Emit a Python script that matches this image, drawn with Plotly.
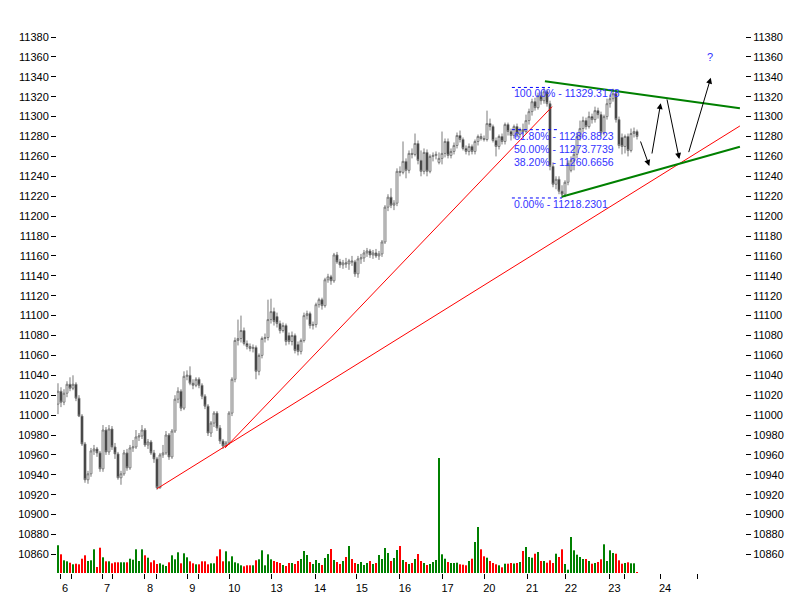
import plotly.graph_objects as go

# hourly bars, 6th .. 23rd (one bar every 3 px in the original)
opens = [
    11011, 11024, 11013, 11022, 11031, 11027, 11031, 11017, 10999, 10971, 10935, 10941, 10964, 10966,
    10962, 10946, 10985, 10963, 10986, 10968, 10961, 10937, 10941, 10962, 10947, 10967, 10968, 10978,
    10979, 10985, 10970, 10973, 10962, 10956, 10927, 10960, 10962, 10980, 10958, 10984, 11016, 11024,
    11007, 11039, 11040, 11032, 11030, 11036, 11030, 11019, 11009, 10982, 10992, 11002, 10987, 10974,
    10969, 10972, 11002, 11036, 11075, 11077, 11085, 11072, 11069, 11067, 11068, 11044, 11060, 11077,
    11078, 11096, 11104, 11099, 11092, 11085, 11090, 11080, 11074, 11080, 11071, 11064, 11075, 11100,
    11102, 11090, 11091, 11111, 11116, 11110, 11136, 11139, 11135, 11161, 11154, 11151, 11153, 11152,
    11155, 11154, 11142, 11157, 11158, 11163, 11165, 11161, 11163, 11160, 11162, 11174, 11209, 11219,
    11211, 11213, 11245, 11244, 11255, 11246, 11263, 11262, 11273, 11256, 11245, 11264, 11245, 11260,
    11261, 11254, 11258, 11263, 11275, 11261, 11265, 11271, 11281, 11277, 11268, 11265, 11270, 11265,
    11275, 11280, 11278, 11277, 11293, 11290, 11276, 11270, 11280, 11275, 11292, 11285, 11281, 11290,
    11282, 11287, 11285, 11296, 11305, 11315, 11309, 11321, 11316, 11325, 11313, 11250, 11232, 11237,
    11225, 11222, 11234, 11246, 11256, 11262, 11280, 11288, 11296, 11290, 11300, 11297, 11306, 11302,
    11284, 11300, 11313, 11318, 11323, 11297, 11279, 11270, 11280, 11266, 11283, 11285,
]
highs = [
    11032, 11028, 11026, 11034, 11038, 11040, 11033, 11020, 11001, 10973, 10944, 10967, 10970, 10968,
    10964, 10990, 10988, 10990, 10989, 10972, 10963, 10944, 10965, 10966, 10970, 10975, 10985, 10982,
    10990, 10987, 10976, 10975, 10965, 10958, 10962, 10970, 10984, 10982, 10986, 11020, 11028, 11026,
    11044, 11045, 11049, 11036, 11038, 11038, 11032, 11021, 11011, 10994, 11004, 11004, 10990, 10976,
    10974, 11004, 11038, 11078, 11096, 11100, 11088, 11075, 11072, 11071, 11070, 11062, 11079, 11082,
    11116, 11117, 11108, 11103, 11095, 11093, 11092, 11083, 11084, 11082, 11074, 11077, 11103, 11105,
    11104, 11094, 11113, 11118, 11118, 11138, 11142, 11141, 11163, 11164, 11157, 11156, 11158, 11157,
    11160, 11156, 11160, 11162, 11166, 11168, 11167, 11166, 11167, 11165, 11176, 11211, 11222, 11228,
    11216, 11248, 11250, 11275, 11258, 11266, 11268, 11283, 11276, 11266, 11268, 11267, 11262, 11264,
    11265, 11264, 11285, 11278, 11278, 11268, 11274, 11284, 11286, 11279, 11271, 11273, 11272, 11277,
    11282, 11283, 11281, 11306, 11298, 11292, 11279, 11282, 11283, 11294, 11294, 11288, 11292, 11293,
    11289, 11293, 11302, 11308, 11318, 11319, 11324, 11325, 11329.32, 11327, 11316, 11254, 11240, 11240,
    11231, 11236, 11256, 11260, 11270, 11284, 11296, 11300, 11299, 11305, 11303, 11310, 11309, 11305,
    11302, 11318, 11322, 11328, 11326, 11300, 11283, 11282, 11283, 11288, 11289, 11287,
]
lows = [
    11001, 11008, 11010, 11018, 11024, 11025, 11014, 10998, 10969, 10932, 10931, 10938, 10960, 10958,
    10943, 10943, 10960, 10960, 10965, 10956, 10935, 10930, 10939, 10944, 10945, 10963, 10966, 10974,
    10976, 10968, 10966, 10960, 10952, 10925, 10926, 10957, 10960, 10955, 10956, 10982, 11012, 11004,
    11005, 11035, 11030, 11026, 11028, 11027, 11016, 11006, 10979, 10978, 10988, 10984, 10971, 10966,
    10968, 10970, 10999, 11033, 11070, 11073, 11070, 11066, 11064, 11063, 11036, 11040, 11057, 11073,
    11075, 11092, 11090, 11088, 11082, 11083, 11070, 11071, 11070, 11062, 11060, 11061, 11073, 11096,
    11087, 11086, 11088, 11108, 11106, 11108, 11133, 11131, 11133, 11152, 11148, 11147, 11148, 11146,
    11150, 11139, 11138, 11152, 11154, 11159, 11158, 11157, 11158, 11156, 11159, 11172, 11205, 11208,
    11206, 11210, 11240, 11242, 11238, 11243, 11258, 11260, 11252, 11240, 11242, 11240, 11243, 11255,
    11257, 11252, 11252, 11259, 11258, 11258, 11262, 11268, 11274, 11266, 11262, 11261, 11262, 11262,
    11271, 11276, 11275, 11275, 11286, 11274, 11260, 11267, 11272, 11272, 11281, 11276, 11278, 11279,
    11279, 11282, 11283, 11292, 11301, 11306, 11307, 11312, 11313, 11310, 11246, 11229, 11227, 11222,
    11218.23, 11219, 11231, 11244, 11246, 11258, 11276, 11284, 11287, 11288, 11293, 11294, 11298, 11280,
    11281, 11297, 11309, 11315, 11294, 11268, 11262, 11263, 11260, 11264, 11279, 11277,
]
closes = [
    11024, 11013, 11022, 11031, 11027, 11031, 11017, 10999, 10971, 10935, 10941, 10964, 10966, 10962,
    10946, 10985, 10963, 10986, 10968, 10961, 10937, 10941, 10962, 10947, 10967, 10968, 10978, 10979,
    10985, 10970, 10973, 10962, 10956, 10927, 10960, 10962, 10980, 10958, 10984, 11016, 11024, 11007,
    11039, 11040, 11032, 11030, 11036, 11030, 11019, 11009, 10982, 10992, 11002, 10987, 10974, 10969,
    10972, 11002, 11036, 11075, 11077, 11085, 11072, 11069, 11067, 11068, 11044, 11060, 11077, 11078,
    11096, 11104, 11094, 11092, 11085, 11090, 11074, 11074, 11080, 11065, 11064, 11075, 11100, 11102,
    11090, 11091, 11111, 11116, 11110, 11136, 11139, 11135, 11161, 11154, 11151, 11153, 11152, 11155,
    11154, 11142, 11157, 11158, 11163, 11165, 11161, 11163, 11160, 11162, 11174, 11209, 11219, 11211,
    11213, 11245, 11244, 11255, 11246, 11263, 11262, 11273, 11256, 11245, 11264, 11245, 11260, 11261,
    11262, 11258, 11263, 11275, 11261, 11265, 11271, 11281, 11277, 11268, 11265, 11270, 11265, 11275,
    11280, 11278, 11277, 11293, 11290, 11276, 11270, 11280, 11275, 11292, 11285, 11281, 11290, 11282,
    11287, 11285, 11296, 11305, 11315, 11309, 11321, 11316, 11325, 11313, 11250, 11232, 11237, 11225,
    11222, 11234, 11253, 11256, 11262, 11280, 11288, 11296, 11290, 11300, 11297, 11306, 11302, 11284,
    11300, 11313, 11318, 11323, 11297, 11271, 11270, 11280, 11266, 11283, 11285, 11280,
]
volumes = [
    2770, 1870, 1270, 1170, 1030, 870, 930, 870, 1430, 1770, 1200, 1270, 2370, 600,
    2530, 1570, 1170, 1170, 970, 1070, 1070, 1070, 1070, 1070, 1430, 1330, 2370, 1200,
    2370, 1770, 1530, 1070, 1270, 900, 970, 830, 700, 1070, 1770, 1370, 2070, 970,
    1970, 1570, 1170, 970, 870, 870, 1170, 1170, 870, 970, 970, 1670, 2370, 1170,
    2170, 1170, 1670, 1070, 970, 770, 670, 770, 770, 770, 1270, 1370, 2270, 770,
    1870, 1370, 1200, 1100, 1000, 800, 700, 1000, 1000, 900, 1200, 1400, 2200, 1800,
    1100, 900, 1300, 1000, 800, 1500, 1900, 2400, 1300, 1100, 900, 1200, 1600, 2700,
    1400, 1000, 900, 1100, 800, 1000, 1200, 900, 1000, 1800, 1400, 2500, 2000, 1200,
    1500, 2300, 2700, 1300, 1100, 900, 1000, 1400, 1900, 1200, 1000, 800, 900, 1100,
    1300, 11500, 1870, 1430, 1100, 1000, 1000, 1030, 870, 830, 770, 1200, 1430, 3100,
    4600, 2370, 1670, 1530, 1200, 1000, 870, 770, 570, 930, 930, 1000, 950, 1000,
    1100, 2200, 2600, 1600, 1530, 1930, 2100, 1200, 1200, 1030, 1270, 1000, 1930, 1600,
    2370, 900, 330, 3600, 2270, 1830, 1600, 1400, 1400, 1200, 930, 1000, 1100, 1370,
    2870, 1200, 2270, 2000, 1930, 1270, 930, 1000, 1070, 970, 970, 70,
]

bars = list(range(len(closes)))

day_ticks = [0.67, 14.7, 29, 43.1, 57.1, 71.2, 85.7, 99.6, 114, 128.2, 142.1, 156.4, 169.3, 183.8, 200.7]
day_labels = ['6', '7', '8', '9', '10', '13', '14', '15', '16', '17', '20', '21', '22', '23', '24']
session_ticks = [4.6, 18.3, 32.7, 46.7, 188.8, 213.1]
price_ticks = list(range(10860, 11381, 20))

fib_pct = ['100.00%', '61.80%', '50.00%', '38.20%', '0.00%']
fib_level = [11329.3178, 11286.8823, 11273.7739, 11260.6656, 11218.2301]
fib_line_end = [164, 166.3, None, None, 168]
fib_start = 151.3

# trend lines: [bar0, bar1], [price0, price1]
long_support = ([33, 227.3], [10926, 11290.6])
steep_support = ([55.7, 164.7], [10967, 11310])
triangle_top = ([162.3, 227.3], [11335.5, 11308.3])
triangle_bottom = ([167.9, 227.3], [11219.5, 11269.7])

# projected zigzag legs: from (bar, price) to (bar, price)
zigzag = [
    (194, 11276.5, 197.1, 11250.4),
    (197.9, 11261.4, 200.9, 11313.5),
    (202.9, 11318.8, 207.1, 11257.4),
    (210.1, 11262.8, 217.6, 11339.1),
]

vol_colors = ['#008000' if c >= o else '#ff0000' for o, c in zip(opens, closes)]

fig = go.Figure()

fig.add_trace(go.Bar(x=bars, y=volumes, marker=dict(color=vol_colors, line=dict(width=0)),
                     width=0.67, yaxis='y3', hoverinfo='skip'))

fig.add_trace(go.Candlestick(
    x=bars, open=opens, high=highs, low=lows, close=closes,
    increasing=dict(line=dict(color='#7a7a7a', width=1), fillcolor='white'),
    decreasing=dict(line=dict(color='#7a7a7a', width=1), fillcolor='black'),
    whiskerwidth=0))

for xs, ys in [long_support, steep_support]:
    fig.add_trace(go.Scatter(x=xs, y=ys, mode='lines', line=dict(color='red', width=1), yaxis='y2'))
for xs, ys in [triangle_top, triangle_bottom]:
    fig.add_trace(go.Scatter(x=xs, y=ys, mode='lines', line=dict(color='#008000', width=2), yaxis='y2'))

for lvl, end in zip(fib_level, fib_line_end):
    if end is None:
        continue
    fig.add_trace(go.Scatter(x=[fib_start, end], y=[lvl, lvl], mode='lines',
                             line=dict(color='#0000ff', width=1, dash='dot'), yaxis='y2'))

annotations = []
for pct, lvl in zip(fib_pct, fib_level):
    annotations.append(dict(x=fib_start, y=lvl, xref='x', yref='y', text=f'{pct} - {lvl:.4f}',
                            showarrow=False, xanchor='left', yanchor='middle', yshift=-6,
                            font=dict(color='#3333ff', size=10.5)))
for x0, y0, x1, y1 in zigzag:
    annotations.append(dict(x=x1, y=y1, ax=x0, ay=y0, xref='x', yref='y', axref='x', ayref='y',
                            text='', showarrow=True, arrowhead=2, arrowsize=1.2, arrowwidth=1,
                            arrowcolor='black', standoff=0))
annotations.append(dict(x=217.3, y=11360, xref='x', yref='y', text='?', showarrow=False,
                        font=dict(color='#3333ff', size=11)))

y_range = [10841.3, 11397.1]
axis_font = dict(family='Liberation Sans', size=11, color='black')

# the page body adds 8px on the left and top, so the margins are trimmed by that much
fig.update_layout(
    width=800, height=600,
    margin=dict(l=49, r=63, t=12, b=35),
    paper_bgcolor='white', plot_bgcolor='white',
    showlegend=False,
    boxgap=0.1,
    font=dict(family='Liberation Sans', size=11),
    xaxis=dict(range=[-0.33, 229], tickvals=day_ticks + session_ticks,
               ticktext=day_labels + [''] * len(session_ticks),
               ticks='outside', ticklen=5, tickcolor='black', ticklabelshift=5,
               showgrid=False, zeroline=False, showline=False, automargin=False,
               rangeslider=dict(visible=False), tickfont=axis_font),
    yaxis=dict(range=y_range, tickvals=price_ticks, tickformat='d', ticks='outside', ticklen=5,
               tickcolor='black', showgrid=False, zeroline=False, showline=False, automargin=False,
               tickfont=axis_font),
    yaxis2=dict(range=y_range, overlaying='y', side='right', tickvals=price_ticks, tickformat='d',
                ticks='outside', ticklen=5, tickcolor='black', showgrid=False, zeroline=False,
                showline=False, automargin=False, tickfont=axis_font),
    yaxis3=dict(range=[0, 55300], overlaying='y', visible=False),
    annotations=annotations,
)

fig.write_html("out.html")
